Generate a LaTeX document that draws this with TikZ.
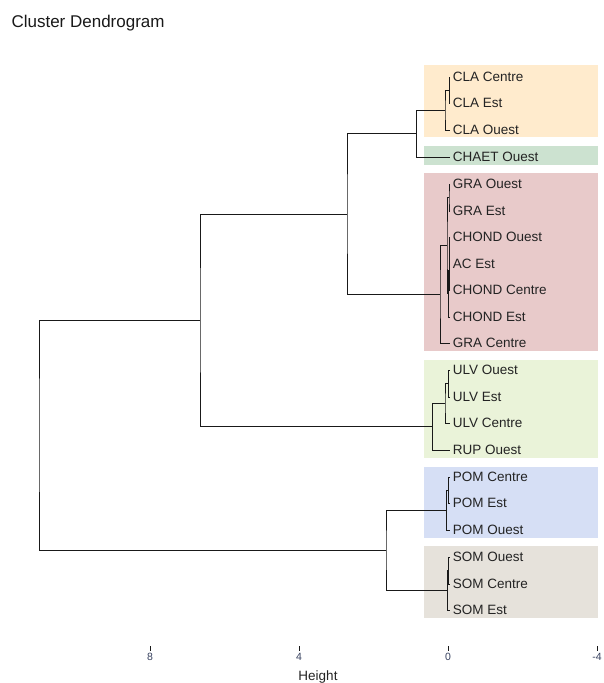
\documentclass[tikz,border=0pt]{standalone}
\usepackage{fontspec}
\setmainfont{Liberation Sans}
\definecolor{txtgray}{RGB}{35,35,35}
\definecolor{axisblue}{RGB}{55,65,95}
\definecolor{bandorange}{RGB}{255,235,205}
\definecolor{bandgreen}{RGB}{204,226,208}
\definecolor{bandred}{RGB}{232,202,202}
\definecolor{bandlime}{RGB}{234,243,217}
\definecolor{bandblue}{RGB}{214,223,245}
\definecolor{bandgray}{RGB}{230,226,219}
\begin{document}
\begin{tikzpicture}[x=1pt,y=-1pt,
                    leaf/.style = {anchor=west,inner ysep=2pt,inner xsep=3.2pt,text=txtgray,font=\fontsize{13.5}{15}\selectfont},
                    link/.style = {line width=0.9pt,draw=black!90},
                    band/.style = {draw=none}]
                    \useasboundingbox (0,0) rectangle (603,683);
                    \node[anchor=west,text=black!90,font=\fontsize{17}{19}\selectfont] (title) at (8,23) {Cluster Dendrogram};
                    
                    \fill[band,bandorange] (424,65) rectangle (598,137);
                    \fill[band,bandgreen] (424,146) rectangle (598,165);
                    \fill[band,bandred] (424,173) rectangle (598,351);
                    \fill[band,bandlime] (424,360) rectangle (598,458);
                    \fill[band,bandblue] (424,467) rectangle (598,538);
                    \fill[band,bandgray] (424,546) rectangle (598,618);
                    
                    \node[leaf] (claC) at (449.5,77) {CLA Centre};
                    \node[leaf] (claE) at (449.5,103) {CLA Est};
                    \node[leaf] (claO) at (449.5,130) {CLA Ouest};
                    \node[leaf] (chaO) at (449.5,157) {CHAET Ouest};
                    \node[leaf] (graO) at (449.5,184) {GRA Ouest};
                    \node[leaf] (graE) at (449.5,211) {GRA Est};
                    \node[leaf] (choO) at (449.5,237) {CHOND Ouest};
                    \node[leaf] (acE) at (449.5,264) {AC Est};
                    \node[leaf] (choC) at (449.5,290) {CHOND Centre};
                    \node[leaf] (choE) at (449.5,317) {CHOND Est};
                    \node[leaf] (graC) at (449.5,343) {GRA Centre};
                    \node[leaf] (ulvO) at (449.5,370) {ULV Ouest};
                    \node[leaf] (ulvE) at (449.5,397) {ULV Est};
                    \node[leaf] (ulvC) at (449.5,423) {ULV Centre};
                    \node[leaf] (rupO) at (449.5,450) {RUP Ouest};
                    \node[leaf] (pomC) at (449.5,477) {POM Centre};
                    \node[leaf] (pomE) at (449.5,503) {POM Est};
                    \node[leaf] (pomO) at (449.5,530) {POM Ouest};
                    \node[leaf] (somO) at (449.5,557) {SOM Ouest};
                    \node[leaf] (somC) at (449.5,584) {SOM Centre};
                    \node[leaf] (somE) at (449.5,610) {SOM Est};
                    
                    % merge points
                    \coordinate (cla1) at (449.2,90);
                    \coordinate (cla2) at (445,110);
                    \coordinate (cha) at (416.7,133.5);
                    \coordinate (gra1) at (449,197.5);
                    \coordinate (cho1) at (449.3,250.5);
                    \coordinate (cho2) at (449.1,270);
                    \coordinate (cho3) at (448.9,293.5);
                    \coordinate (gra2) at (447,245.5);
                    \coordinate (gra3) at (440,294);
                    \coordinate (top1) at (347,214);
                    \coordinate (ulv1) at (448.3,383.5);
                    \coordinate (ulv2) at (445,403);
                    \coordinate (rup) at (432.3,426.5);
                    \coordinate (top2) at (200,320);
                    \coordinate (pom1) at (448.3,490);
                    \coordinate (pom2) at (446.7,510);
                    \coordinate (som1) at (448.8,570.5);
                    \coordinate (som2) at (447.7,590);
                    \coordinate (low) at (386,550);
                    \coordinate (root) at (39,435);
                    
                    \draw[link] (claC.west) -| (cla1) |- (claE.west);
                    \draw[link] (cla1) -| (cla2) |- (claO.west);
                    \draw[link] (cla2) -| (cha) |- (chaO.west);
                    \draw[link] (graO.west) -| (gra1) |- (graE.west);
                    \draw[link] (choO.west) -| (cho1) |- (acE.west);
                    \draw[link] (cho1) -| (cho2) |- (choC.west);
                    \draw[link] (cho2) -| (cho3) |- (choE.west);
                    \draw[link] (gra1) -| (gra2) |- (cho3);
                    \draw[link] (gra2) -| (gra3) |- (graC.west);
                    \draw[link] (cha) -| (top1) |- (gra3);
                    \draw[link] (ulvO.west) -| (ulv1) |- (ulvE.west);
                    \draw[link] (ulv1) -| (ulv2) |- (ulvC.west);
                    \draw[link] (ulv2) -| (rup) |- (rupO.west);
                    \draw[link] (top1) -| (top2) |- (rup);
                    \draw[link] (pomC.west) -| (pom1) |- (pomE.west);
                    \draw[link] (pom1) -| (pom2) |- (pomO.west);
                    \draw[link] (somO.west) -| (som1) |- (somC.west);
                    \draw[link] (som1) -| (som2) |- (somE.west);
                    \draw[link] (pom2) -| (low) |- (som2);
                    \draw[link] (top2) -| (root) |- (low);
                    
                    % height axis
                    \foreach \h/\x in {8/150,4/299,0/448,-4/597}
                        \draw[line width=0.9pt,black!90] (\x,646) -- (\x,651)
                            node[below,inner sep=2pt,text=axisblue,font=\fontsize{10.5}{12}\selectfont] {\h};
                    \node[text=txtgray,font=\fontsize{13.5}{15}\selectfont] (height) at (318,677) {Height};
                \end{tikzpicture}
\end{document}
